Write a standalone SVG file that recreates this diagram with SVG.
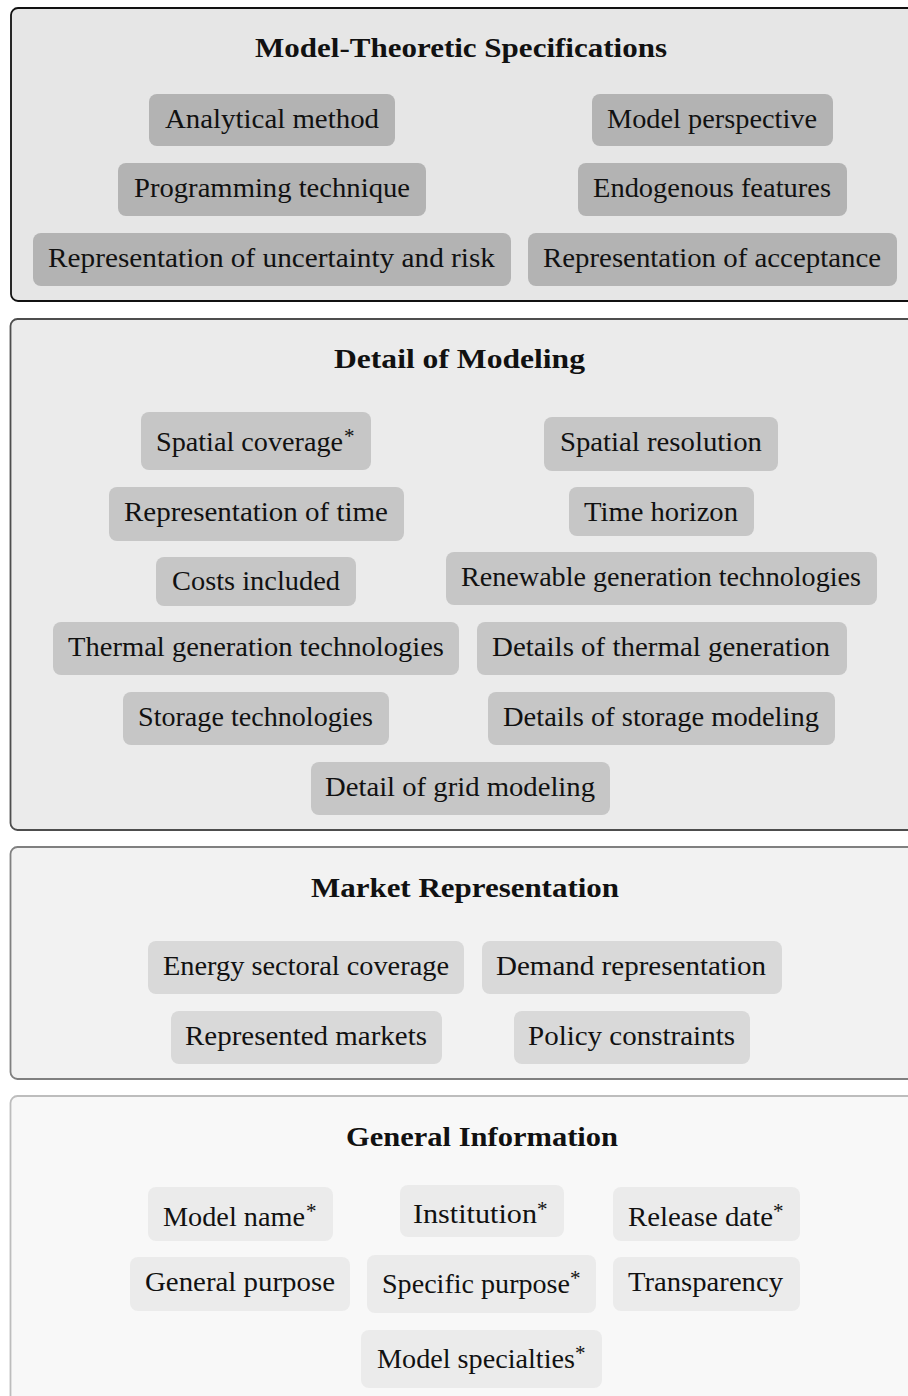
<svg xmlns="http://www.w3.org/2000/svg" width="908" height="1396" viewBox="0 0 908 1396">
<style>
text{font-family:"Liberation Serif","Times New Roman",serif;fill:#111;}
.t{font-size:27px;}
.h{font-size:27px;font-weight:bold;}
.a{font-size:21px;}
.n1{fill:#b3b3b3;}
.n2{fill:#c6c6c6;}
.n3{fill:#d9d9d9;}
.n4{fill:#ebebeb;}
</style>
<rect width="908" height="1396" fill="#ffffff"/>

<g id="sec-model-theoretic">
<rect x="11" y="8" width="920" height="293" rx="7" fill="#e6e6e6" stroke="#111" stroke-width="1.8"/>
<text class="h" x="255" y="57" textLength="412" lengthAdjust="spacingAndGlyphs">Model-Theoretic Specifications</text>
</g>
<g id="node-analytical-method"><rect class="n1" x="149" y="94" width="246" height="52" rx="8"/><text class="t" x="165" y="128" textLength="214" lengthAdjust="spacingAndGlyphs">Analytical method</text></g>
<g id="node-programming-technique"><rect class="n1" x="118" y="163" width="308" height="53" rx="8"/><text class="t" x="134" y="197" textLength="276" lengthAdjust="spacingAndGlyphs">Programming technique</text></g>
<g id="node-uncertainty"><rect class="n1" x="33" y="233" width="478" height="53" rx="8"/><text class="t" x="48" y="267" textLength="447" lengthAdjust="spacingAndGlyphs">Representation of uncertainty and risk</text></g>
<g id="node-model-perspective"><rect class="n1" x="592" y="94" width="241" height="52" rx="8"/><text class="t" x="607" y="128" textLength="210" lengthAdjust="spacingAndGlyphs">Model perspective</text></g>
<g id="node-endogenous"><rect class="n1" x="578" y="163" width="269" height="53" rx="8"/><text class="t" x="593" y="197" textLength="238" lengthAdjust="spacingAndGlyphs">Endogenous features</text></g>
<g id="node-acceptance"><rect class="n1" x="528" y="233" width="369" height="53" rx="8"/><text class="t" x="543" y="267" textLength="338" lengthAdjust="spacingAndGlyphs">Representation of acceptance</text></g>

<g id="sec-detail-of-modeling">
<rect x="10.5" y="319" width="920" height="511" rx="7" fill="#ebebeb" stroke="#4d4d4d" stroke-width="1.8"/>
<text class="h" x="334" y="368" textLength="251" lengthAdjust="spacingAndGlyphs">Detail of Modeling</text>
</g>
<g id="node-spatial-coverage"><rect class="n2" x="141" y="412" width="230" height="58" rx="8"/><text class="t" x="156" y="451" textLength="187" lengthAdjust="spacingAndGlyphs">Spatial coverage</text><text class="a" x="344" y="443">*</text></g>
<g id="node-spatial-resolution"><rect class="n2" x="544" y="417" width="234" height="54" rx="8"/><text class="t" x="560" y="451" textLength="202" lengthAdjust="spacingAndGlyphs">Spatial resolution</text></g>
<g id="node-representation-time"><rect class="n2" x="109" y="487" width="295" height="54" rx="8"/><text class="t" x="124" y="521" textLength="264" lengthAdjust="spacingAndGlyphs">Representation of time</text></g>
<g id="node-time-horizon"><rect class="n2" x="569" y="487" width="185" height="49" rx="8"/><text class="t" x="584" y="521" textLength="154" lengthAdjust="spacingAndGlyphs">Time horizon</text></g>
<g id="node-costs-included"><rect class="n2" x="156" y="557" width="200" height="49" rx="8"/><text class="t" x="172" y="590" textLength="168" lengthAdjust="spacingAndGlyphs">Costs included</text></g>
<g id="node-renewable"><rect class="n2" x="446" y="552" width="431" height="53" rx="8"/><text class="t" x="461" y="586" textLength="400" lengthAdjust="spacingAndGlyphs">Renewable generation technologies</text></g>
<g id="node-thermal"><rect class="n2" x="53" y="622" width="406" height="53" rx="8"/><text class="t" x="68" y="656" textLength="376" lengthAdjust="spacingAndGlyphs">Thermal generation technologies</text></g>
<g id="node-details-thermal"><rect class="n2" x="477" y="622" width="370" height="53" rx="8"/><text class="t" x="492" y="656" textLength="338" lengthAdjust="spacingAndGlyphs">Details of thermal generation</text></g>
<g id="node-storage"><rect class="n2" x="123" y="692" width="266" height="53" rx="8"/><text class="t" x="138" y="726" textLength="235" lengthAdjust="spacingAndGlyphs">Storage technologies</text></g>
<g id="node-details-storage"><rect class="n2" x="488" y="692" width="347" height="53" rx="8"/><text class="t" x="503" y="726" textLength="316" lengthAdjust="spacingAndGlyphs">Details of storage modeling</text></g>
<g id="node-grid"><rect class="n2" x="311" y="762" width="299" height="53" rx="8"/><text class="t" x="325" y="796" textLength="270" lengthAdjust="spacingAndGlyphs">Detail of grid modeling</text></g>

<g id="sec-market-representation">
<rect x="10.5" y="847" width="920" height="232" rx="7" fill="#f2f2f2" stroke="#808080" stroke-width="1.8"/>
<text class="h" x="311" y="897" textLength="308" lengthAdjust="spacingAndGlyphs">Market Representation</text>
</g>
<g id="node-energy-sectoral"><rect class="n3" x="148" y="941" width="316" height="53" rx="8"/><text class="t" x="163" y="975" textLength="286" lengthAdjust="spacingAndGlyphs">Energy sectoral coverage</text></g>
<g id="node-demand"><rect class="n3" x="482" y="941" width="300" height="53" rx="8"/><text class="t" x="496" y="975" textLength="270" lengthAdjust="spacingAndGlyphs">Demand representation</text></g>
<g id="node-markets"><rect class="n3" x="171" y="1011" width="271" height="53" rx="8"/><text class="t" x="185" y="1045" textLength="242" lengthAdjust="spacingAndGlyphs">Represented markets</text></g>
<g id="node-policy"><rect class="n3" x="514" y="1011" width="236" height="53" rx="8"/><text class="t" x="528" y="1045" textLength="207" lengthAdjust="spacingAndGlyphs">Policy constraints</text></g>

<g id="sec-general-information">
<rect x="10.5" y="1096" width="920" height="330" rx="7" fill="#f8f8f8" stroke="#bdbdbd" stroke-width="1.8"/>
<text class="h" x="346" y="1146" textLength="272" lengthAdjust="spacingAndGlyphs">General Information</text>
</g>
<g id="node-model-name"><rect class="n4" x="148" y="1187" width="185" height="54" rx="8"/><text class="t" x="163" y="1226" textLength="142" lengthAdjust="spacingAndGlyphs">Model name</text><text class="a" x="306" y="1218">*</text></g>
<g id="node-institution"><rect class="n4" x="400" y="1185" width="164" height="52" rx="8"/><text class="t" x="413" y="1223" textLength="124" lengthAdjust="spacingAndGlyphs">Institution</text><text class="a" x="537" y="1216">*</text></g>
<g id="node-release-date"><rect class="n4" x="613" y="1187" width="187" height="54" rx="8"/><text class="t" x="628" y="1226" textLength="145" lengthAdjust="spacingAndGlyphs">Release date</text><text class="a" x="773" y="1218">*</text></g>
<g id="node-general-purpose"><rect class="n4" x="130" y="1257" width="220" height="54" rx="8"/><text class="t" x="145" y="1291" textLength="190" lengthAdjust="spacingAndGlyphs">General purpose</text></g>
<g id="node-specific-purpose"><rect class="n4" x="367" y="1255" width="229" height="58" rx="8"/><text class="t" x="382" y="1293" textLength="188" lengthAdjust="spacingAndGlyphs">Specific purpose</text><text class="a" x="570" y="1285">*</text></g>
<g id="node-transparency"><rect class="n4" x="613" y="1257" width="187" height="54" rx="8"/><text class="t" x="628" y="1291" textLength="155" lengthAdjust="spacingAndGlyphs">Transparency</text></g>
<g id="node-model-specialties"><rect class="n4" x="361" y="1330" width="241" height="58" rx="8"/><text class="t" x="377" y="1368" textLength="198" lengthAdjust="spacingAndGlyphs">Model specialties</text><text class="a" x="575" y="1360">*</text></g>

<g id="connectors"></g>
</svg>
